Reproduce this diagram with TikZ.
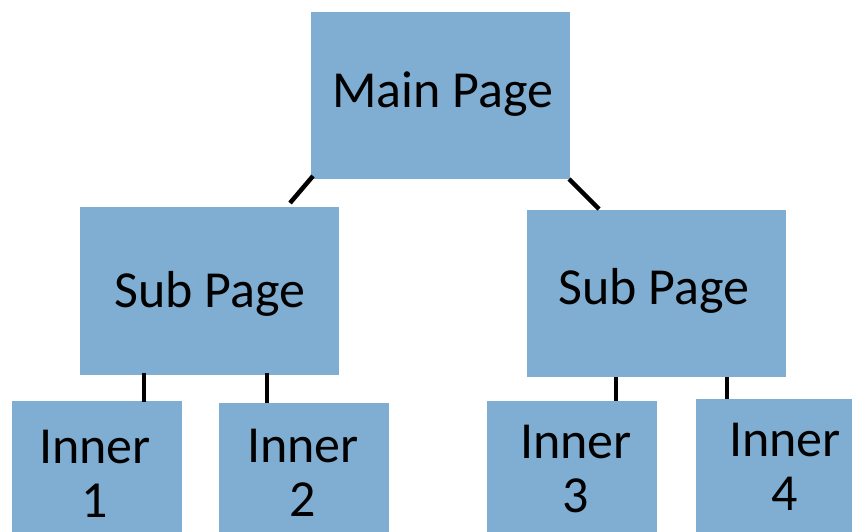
\documentclass[tikz,border=0pt]{standalone}
\usepackage{fontspec}
\setmainfont{Carlito}
\usetikzlibrary{calc}
\definecolor{boxblue}{RGB}{127,174,210}
\tikzset{
  pagebox/.style={rectangle, fill=boxblue, draw=none, inner sep=0pt, outer sep=0pt, anchor=north west},
  txt/.style={inner sep=0pt, outer sep=0pt, anchor=base, align=center, font=\fontsize{52}{54}\selectfont, text=black},
  link/.style={line width=4.5pt, black}
}
\begin{document}
\begin{tikzpicture}[x=1pt, y=-1pt]
\useasboundingbox (0,0) rectangle (852,531);
\clip (0,0) rectangle (852,531);
% boxes
\node[pagebox, minimum width=259pt, minimum height=167pt] (main) at (311,12) {};
\node[pagebox, minimum width=259pt, minimum height=168pt] (subL) at (80,207) {};
\node[pagebox, minimum width=259pt, minimum height=167pt] (subR) at (527,210) {};
\node[pagebox, minimum width=170pt, minimum height=160pt] (in1) at (12,401) {};
\node[pagebox, minimum width=170pt, minimum height=160pt] (in2) at (219,403) {};
\node[pagebox, minimum width=170pt, minimum height=160pt] (in3) at (487,401) {};
\node[pagebox, minimum width=178pt, minimum height=160pt] (in4) at (696,399) {};
% texts
\node[txt] (mainT) at (443,107) {Main Page};
\node[txt] (subLT) at (210,307) {Sub Page};
\node[txt] (subRT) at (654,304) {Sub Page};
\node[txt] (in1T) at (95,517) {Inner\\1};
\node[txt] (in2T) at (303,516) {Inner\\2};
\node[txt] (in3T) at (576,512) {Inner\\3};
\node[txt] (in4T) at (785,510) {Inner\\4};
% connectors
\draw[link] ($(main.south west)+(2,-3)$) -- ($(subL.north)+(80.5,-4)$);
\draw[link] ($(main.south east)+(-1,0)$) -- ($(subR.north)+(-57.5,-1)$);
\draw[link] ($(subL.south)+(-65.5,-2)$) -- ($(in1.north)+(47,1)$);
\draw[link] ($(subL.south)+(57.5,-2)$) -- ($(in2.north)+(-37,0)$);
\draw[link] ($(subR.south)+(-40.5,0)$) -- ($(in3.north)+(44,0)$);
\draw[link] ($(subR.south)+(70.5,0)$) -- ($(in4.north)+(-58,0)$);
\end{tikzpicture}
\end{document}
